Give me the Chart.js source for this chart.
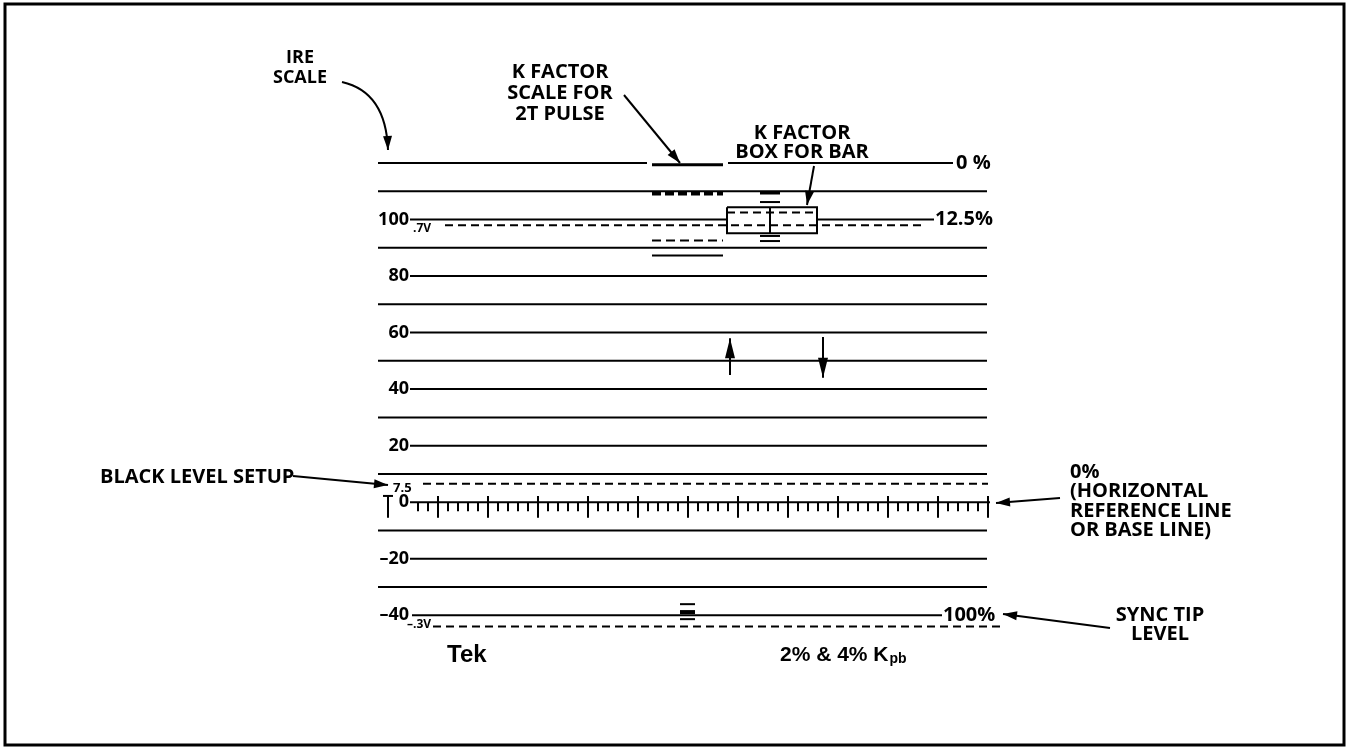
<!DOCTYPE html>
<html>
<head>
<meta charset="utf-8">
<script src="https://cdn.jsdelivr.net/npm/chart.js@4.4.0/dist/chart.umd.min.js"></script>
<style>
html, body { margin: 0; padding: 0; background: #fff; }
#wrap { width: 1348px; height: 748px; position: relative; }
</style>
</head>
<body>
<div id="wrap"><canvas id="grat"></canvas></div>
<script>
// graticule levels, in IRE
const ireLines = [120, 110, 100, 90, 80, 70, 60, 50, 40, 30, 20, 10, 0, -10, -20, -30, -40];
const labelValues = [100, 80, 60, 40, 20, 0, -20, -40];
const labelText = ['100', '80', '60', '40', '20', '0', '–20', '–40'];
const dashedLevels = [98, 6.5, -44];
const dashedText = ['.7V', '7.5', '–.3V'];
const percentLevels = [120, 100, -40];
const percentText = ['0 %', '12.5%', '100%'];
// K factor scale for 2T pulse
const kPulseLevels = [119.4, 109.2, 92.6, 87.3];
// K factor box for bar
const barBox = [95.2, 104.4];
const barInner = 102.5;
const barMarks = [109.4, 106.2, 94.2, 92.4];
const syncMarks = [-36.1, -38.9, -41.4];
// time axis on the base line
const timeMajor = [0, 1, 2, 3, 4, 5, 6, 7, 8, 9, 10, 11, 12];
const minorPerMajor = 5;
// the two moving arrows (from, to)
const upArrow = [45, 58];
const downArrow = [58.4, 44];

const FONT = '"Open Sans", sans-serif';
const HELV = '"Liberation Sans", sans-serif';

function seg(x1, x2, y) { return [{ x: x1, y: y }, { x: x2, y: y }]; }
function ds(data, width, dash) {
  return {
    data: data, borderColor: '#000', borderWidth: width, borderDash: dash || [],
    pointRadius: 0, fill: false, tension: 0, spanGaps: false
  };
}

const datasets = [];

// solid lines
ireLines.forEach(v => {
  let parts;
  if (v === 120) parts = [[-0.2, 5.18], [6.8, 11.3]];
  else if (v === 100) parts = [[0.44, 6.78], [8.58, 10.92]];
  else if (v === -40) parts = [[0.48, 11.08]];
  else if (v === 0) parts = [[0.44, 12.04]];
  else if (labelValues.includes(v)) parts = [[0.44, 11.98]];
  else parts = [[-0.2, 11.98]];
  parts.forEach(p => datasets.push(ds(seg(p[0], p[1], v), 2)));
});

// dashed lines
const dashedRange = [[1.14, 10.74], [0.7, 12.0], [0.9, 12.34]];
dashedLevels.forEach((v, i) => {
  datasets.push(ds(seg(dashedRange[i][0], dashedRange[i][1], v), 2, [8, 5]));
});

// 2T pulse K factor scale
kPulseLevels.forEach((v, i) => {
  if (i === 0) datasets.push(ds(seg(5.28, 6.7, v), 3));
  else if (i === 1) datasets.push(ds(seg(5.28, 6.7, v), 4, [9, 4]));
  else if (i === 2) datasets.push(ds(seg(5.28, 6.7, v), 2, [9, 5]));
  else datasets.push(ds(seg(5.28, 6.7, v), 2));
});

// bar box
const bx1 = 6.78, bx2 = 8.58, bxc = 7.64;
datasets.push(ds([
  { x: bx1, y: barBox[1] }, { x: bx2, y: barBox[1] }, { x: bx2, y: barBox[0] },
  { x: bx1, y: barBox[0] }, { x: bx1, y: barBox[1] }
], 2));
datasets.push(ds([{ x: bxc, y: barBox[1] }, { x: bxc, y: barBox[0] }], 2));
datasets.push(ds(seg(bx1, bx2, barInner), 2, [8, 5]));
barMarks.forEach((v, i) => datasets.push(ds(seg(7.44, 7.84, v), i === 0 ? 3 : 2)));
syncMarks.forEach((v, i) => datasets.push(ds(seg(5.84, 6.14, v), i === 1 ? 4 : 2)));

// base line ticks
const ticks = [];
timeMajor.forEach(t => {
  ticks.push({ x: t, y: 2.2 }, { x: t, y: -5.5 }, { x: t, y: null });
  if (t < timeMajor[timeMajor.length - 1]) {
    for (let k = 1; k < minorPerMajor; k++) {
      const x = t + k / minorPerMajor;
      if (x < 0.5) continue;
      ticks.push({ x: x, y: 0 }, { x: x, y: -3.2 }, { x: x, y: null });
    }
  }
});
datasets.push(ds(ticks, 2));
datasets.push(ds(seg(-0.1, 0.1, 2.2), 2));

function arrowHead(c, x1, y1, x2, y2, len, half) {
  const a = Math.atan2(y2 - y1, x2 - x1);
  c.beginPath();
  c.moveTo(x2, y2);
  c.lineTo(x2 - len * Math.cos(a) + half * Math.sin(a), y2 - len * Math.sin(a) - half * Math.cos(a));
  c.lineTo(x2 - len * Math.cos(a) - half * Math.sin(a), y2 - len * Math.sin(a) + half * Math.cos(a));
  c.closePath();
  c.fill();
}
function arrow(c, x1, y1, x2, y2, len, half) {
  c.beginPath(); c.moveTo(x1, y1); c.lineTo(x2, y2); c.stroke();
  arrowHead(c, x1, y1, x2, y2, len || 14, half || 4.5);
}
function txt(c, s, x, y, size, align, fam) {
  c.font = '700 ' + size + 'px ' + (fam || FONT);
  c.textAlign = align || 'left';
  c.textBaseline = 'middle';
  c.fillText(s, x, y);
}

const decor = {
  id: 'decor',
  beforeDraw(chart) {
    const c = chart.ctx;
    c.save();
    c.fillStyle = '#fff';
    c.fillRect(0, 0, chart.width, chart.height);
    c.strokeStyle = '#000';
    c.lineWidth = 3;
    c.strokeRect(5, 4, chart.width - 9, chart.height - 7);
    c.restore();
  },
  afterDatasetsDraw(chart) {
    const c = chart.ctx;
    const xs = chart.scales.x, ys = chart.scales.y;
    const px = v => xs.getPixelForValue(v), py = v => ys.getPixelForValue(v);
    c.save();
    c.fillStyle = '#000';
    c.strokeStyle = '#000';
    c.lineWidth = 2;

    // level labels
    labelValues.forEach((v, i) => txt(c, labelText[i], px(0.42), py(v), 18, 'right'));
    txt(c, dashedText[0], px(0.5), py(dashedLevels[0]) + 3, 12, 'left');
    txt(c, dashedText[1], px(0.1), py(dashedLevels[1]) + 5, 13, 'left');
    txt(c, dashedText[2], px(0.38), py(dashedLevels[2]) - 2, 12, 'left');
    percentText.forEach((s, i) => txt(c, s, [px(11.36), px(10.94), px(11.1)][i], py(percentLevels[i]), 20, 'left'));

    // moving arrows
    [[6.84, upArrow], [8.7, downArrow]].forEach(a => {
      arrow(c, px(a[0]), py(a[1][0]), px(a[0]), py(a[1][1]), 20, 5);
    });

    // callouts
    txt(c, 'IRE', 300, 58, 18, 'center');
    txt(c, 'SCALE', 300, 78, 18, 'center');
    c.beginPath();
    c.moveTo(342, 82);
    c.quadraticCurveTo(386, 92, 388, 150);
    c.stroke();
    arrowHead(c, 387, 120, 388, 150, 14, 4.5);

    txt(c, 'K FACTOR', 560, 72, 20, 'center');
    txt(c, 'SCALE FOR', 560, 93, 20, 'center');
    txt(c, '2T PULSE', 560, 114, 20, 'center');
    arrow(c, 624, 95, 680, 163);

    txt(c, 'K FACTOR', 802, 133, 20, 'center');
    txt(c, 'BOX FOR BAR', 802, 152, 20, 'center');
    arrow(c, 814, 166, 807, 205);

    txt(c, 'BLACK LEVEL SETUP', 100, 477, 20, 'left');
    arrow(c, 293, 476, 388, 485);

    ['0%', '(HORIZONTAL', 'REFERENCE LINE', 'OR BASE LINE)'].forEach((s, i) => {
      txt(c, s, 1070, 472 + i * 19.5, 20, 'left');
    });
    arrow(c, 1060, 498, 996, 503);

    txt(c, 'SYNC TIP', 1160, 615, 20, 'center');
    txt(c, 'LEVEL', 1160, 634, 20, 'center');
    arrow(c, 1110, 628, 1003, 614);

    txt(c, 'Tek', 447, 655, 24, 'left', HELV);
    c.font = '700 21px ' + HELV;
    const w = c.measureText('2% & 4% K').width;
    txt(c, '2% & 4% K', 780, 655, 21, 'left', HELV);
    txt(c, 'pb', 780 + w + 1, 659, 14, 'left', HELV);
    c.restore();
  }
};

new Chart(document.getElementById('grat'), {
  type: 'line',
  data: { datasets: datasets },
  options: {
    responsive: true,
    maintainAspectRatio: false,
    animation: false,
    events: [],
    layout: { padding: 0 },
    scales: {
      x: { type: 'linear', min: -7.76, max: 19.2, display: false },
      y: { type: 'linear', min: -87, max: 177.7, display: false }
    },
    plugins: { legend: { display: false }, tooltip: { enabled: false } }
  },
  plugins: [decor]
});
</script>
</body>
</html>
